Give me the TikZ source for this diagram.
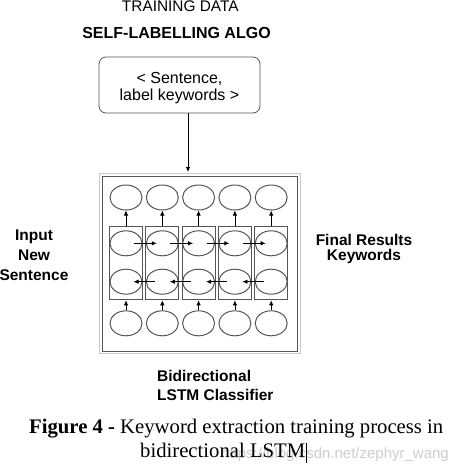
\documentclass[tikz,border=0pt]{standalone}
\usepackage{fontspec}
\setmainfont{Liberation Serif}
\newfontfamily\diagfont{Liberation Sans}
\usetikzlibrary{shapes.geometric,arrows.meta,positioning,calc}
\definecolor{CellGray}{RGB}{85,85,85}
\definecolor{FrameGray}{RGB}{200,200,200}
\definecolor{MarkGray}{RGB}{205,205,205}

\tikzset{
  cell/.style={ellipse, draw=CellGray, line width=1pt, minimum width=32pt, minimum height=25pt, inner sep=0pt},
  gate/.style={rectangle, draw=CellGray, line width=1pt, minimum width=33pt, minimum height=73pt, inner sep=0pt},
  flow/.style={-{Latex[length=5pt,width=4.5pt]}, line width=0.8pt},
  heading/.style={font=\diagfont\bfseries\fontsize{15.5}{20}\selectfont, inner sep=0pt},
}

\begin{document}
\begin{tikzpicture}[x=1pt,y=-1pt]
    \useasboundingbox (0,0) rectangle (466,472);

    % Titles
    \node[font=\diagfont\fontsize{15.4}{18}\selectfont, anchor=base, inner sep=0pt] (title) at (180.3,11.7) {TRAINING DATA};
    \node[font=\diagfont\bfseries\fontsize{16}{18}\selectfont, anchor=base, inner sep=0pt] (algo) at (176.5,38.3) {SELF-LABELLING ALGO};

    % Training pair
    \node[draw=CellGray, line width=0.8pt, rounded corners=7pt, minimum width=161pt, minimum height=56pt, align=center,
          font=\diagfont\fontsize{16}{16.5}\selectfont] (pair) at (179.5,85) {\rule{0pt}{17pt}< Sentence,\\label keywords >};
    \coordinate (drop) at (188,172);
    \draw[flow] (drop |- pair.south) -- (drop);

    % Classifier frame
    \node[draw=FrameGray, line width=0.8pt, minimum width=201pt, minimum height=180pt] (shadow) at (199.5,263) {};
    \node[draw=CellGray, line width=1pt, minimum width=195pt, minimum height=175pt] (frame) at (199.5,263.5) {};

    % Cells
    \foreach \x [count=\c] in {126,162.3,198.6,234.9,271.2} {
      \node[cell] (out\c) at (\x,197.5) {};
      \node[gate] (gate\c) at (\x,263.3) {};
      \node[cell] (fw\c) at (\x,243.3) {};
      \node[cell] (bw\c) at (\x,281.7) {};
      \node[cell] (in\c) at (\x,323.3) {};
      \draw[flow] (gate\c.north) -- (out\c.south);
      \draw[flow] (in\c.north) -- (gate\c.south);
    }
    \foreach \a/\b in {1/2,2/3,3/4,4/5} {
      \draw[flow] ([xshift=8pt]fw\a.center) -- ([xshift=-5.5pt]fw\b.center);
      \draw[flow] ([xshift=-7.5pt]bw\b.center) -- ([xshift=7.5pt]bw\a.center);
    }

    % Side labels
    \node[heading, align=center, anchor=north] (input) at (34,230) {Input\\New\\Sentence};
    \node[heading, align=center, anchor=north, font=\diagfont\bfseries\fontsize{15.5}{15.5}\selectfont] (result) at (364,234) {Final Results\\Keywords};
    \node[heading, align=left, anchor=north west, font=\diagfont\bfseries\fontsize{15.5}{19}\selectfont] (model) at (157,370.5) {Bidirectional\\LSTM Classifier};

    % Caption
    \node[font=\diagfont\fontsize{15}{15}\selectfont, text=MarkGray, anchor=base west, inner sep=0pt] (mark) at (221,458) {https://blog.csdn.net/zephyr\_wang};
    \node[font=\fontsize{20.7}{24}\selectfont, anchor=base west, inner sep=0pt] (cap1) at (29,433.3) {\textbf{Figure 4 -} Keyword extraction training process in};
    \node[font=\fontsize{20.7}{24}\selectfont, anchor=base west, inner sep=0pt] (cap2) at (140,457) {bidirectional LSTM};
    \draw[line width=0.6pt] (cap2.east) ++(1pt,6.7pt) -- ++(0,-20pt);
\end{tikzpicture}
\end{document}
